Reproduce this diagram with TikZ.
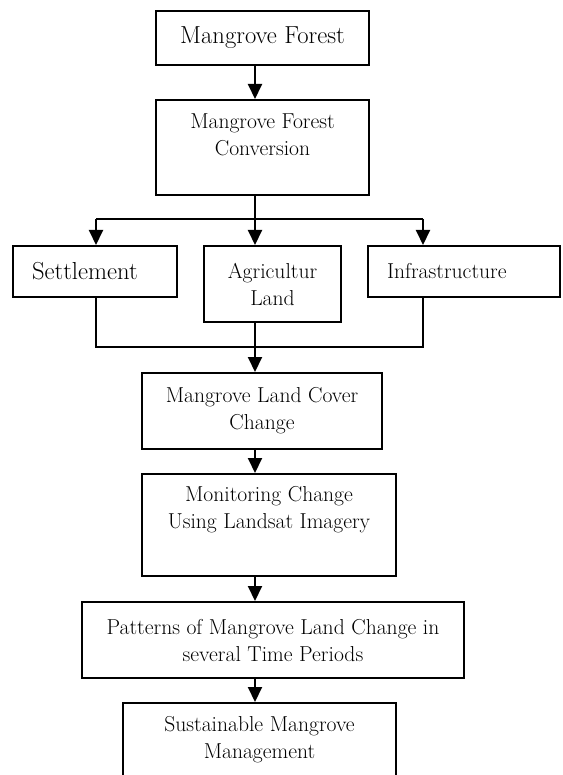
\documentclass[tikz,border=0pt]{standalone}
\usetikzlibrary{arrows.meta}

\begin{document}
\begin{tikzpicture}[x=1pt, y=-1pt, >={Triangle[length=15pt,width=14pt]}]

    % styles
    \tikzstyle{box}=[draw, line width=2pt, align=center, anchor=north, inner sep=0pt,
        font=\fontsize{21.6}{27}\selectfont]
    \tikzstyle{bigbox}=[box, font=\fontsize{24.6}{27}\selectfont]
    \tikzstyle{sidebox}=[box, align=left, inner xsep=19pt]
    \tikzstyle{line}=[line width=2pt]
    \tikzstyle{arr}=[->, line width=2pt]

    \useasboundingbox (0,0) rectangle (562,775);

    % main column
    \node[bigbox, minimum width=213, minimum height=54] (forest) at (262.5,10) {Mangrove Forest};
    \node[box, minimum width=213, minimum height=95] (conv) at (262.5,99)
        {Mangrove Forest\\Conversion\\[-10pt]\strut};

    % conversion types
    \node[bigbox, align=left, inner xsep=19pt, text width=126, minimum height=51] (settle) at (95,245) {Settlement};
    \node[box, minimum width=137, minimum height=76] (agri) at (272.5,245) {Agricultur\\Land};
    \node[sidebox, text width=154, minimum height=51] (infra) at (464,245) {Infrastructure};

    % lower column
    \node[box, minimum width=240, minimum height=76] (cover) at (262,372) {Mangrove Land Cover\\Change};
    \node[box, minimum width=254, minimum height=102] (monitor) at (269,473)
        {Monitoring Change\\Using Landsat Imagery\\[0pt]\strut};
    \node[box, minimum width=382, minimum height=76] (pattern) at (273,601)
        {Patterns of Mangrove Land Change in\\several Time Periods};
    \node[box, minimum width=273, minimum height=74] (manage) at (259.5,702)
        {Sustainable Mangrove\\Management};

    % branch points
    \coordinate (axis) at (255,0);
    \coordinate (split) at (255,219);
    \coordinate (lsplit) at (96,219);
    \coordinate (rsplit) at (423,219);
    \coordinate (ljoin) at (96,347);
    \coordinate (rjoin) at (423,347);

    % arrows down the column
    \draw[arr] (forest.south -| axis) -- (conv.north -| axis);
    \draw[line] (conv.south -| axis) -- (split);
    \draw[line] (lsplit) -- (rsplit);
    \draw[arr] (lsplit) -- (lsplit |- settle.north);
    \draw[arr] (split) -- (split |- agri.north);
    \draw[arr] (rsplit) -- (rsplit |- infra.north);

    % joining the three types
    \draw[line] (settle.south -| ljoin) -- (ljoin) -- (rjoin) -- (infra.south -| rjoin);
    \draw[arr] (agri.south -| axis) -- (cover.north -| axis);

    \draw[arr] (cover.south -| axis) -- (monitor.north -| axis);
    \draw[arr] (monitor.south -| axis) -- (pattern.north -| axis);
    \draw[arr] (pattern.south -| axis) -- (manage.north -| axis);

\end{tikzpicture}
\end{document}
